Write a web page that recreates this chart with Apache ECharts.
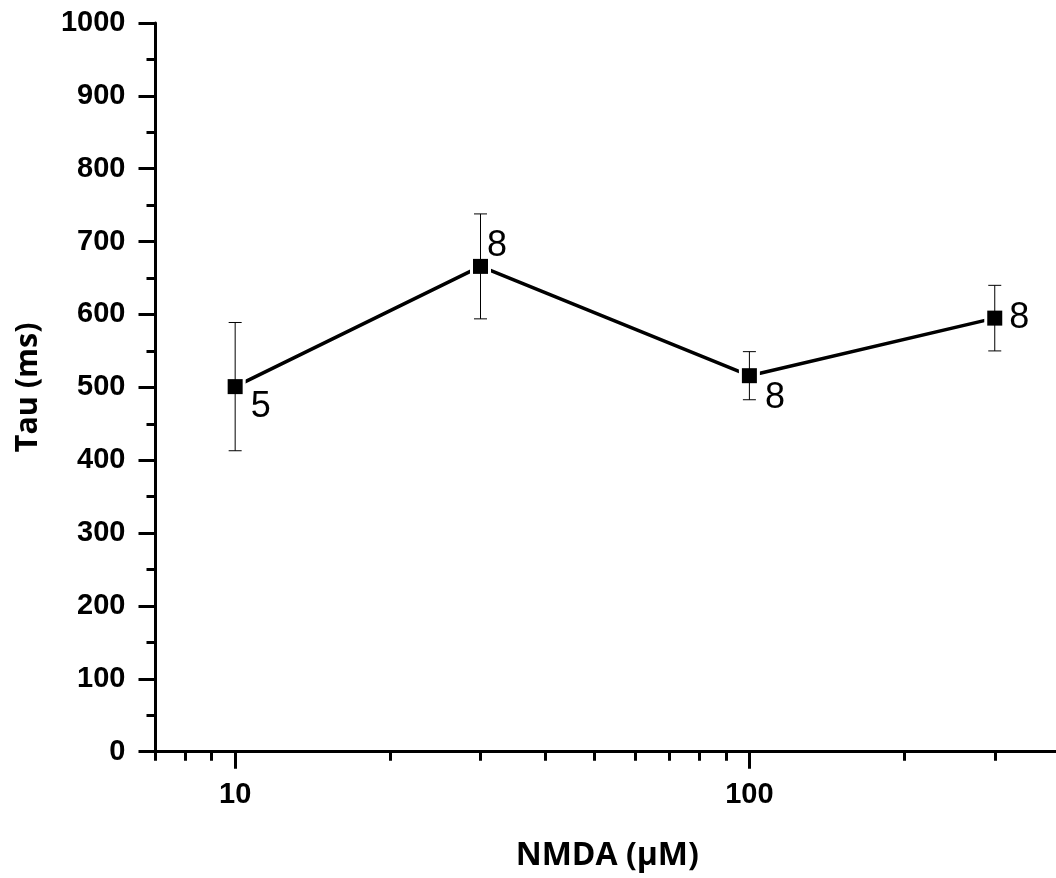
<!DOCTYPE html>
<html>
<head>
<meta charset="utf-8">
<script src="https://cdn.jsdelivr.net/npm/echarts@6/dist/echarts.min.js"></script>
<style>
  html, body { margin: 0; padding: 0; background: #ffffff; }
  #chart { width: 1056px; height: 878px; }
</style>
</head>
<body>
<div id="chart"></div>
<script>
// NMDA concentration (µM) and decay time constant (ms), mean ± SEM
const concentrations = [10, 30, 100, 300];
const tauMean = [501, 666, 516, 595];
const tauSem = [88, 72, 33, 45];
const cellCounts = [5, 8, 8, 8];

// log-scale x axis: labelled decades and the minor ticks between them
const xMajorTicks = [10, 100];
const xMinorTicks = [7, 8, 9, 20, 30, 40, 50, 60, 70, 80, 90, 200, 300];
const xRange = [7, 400];
const yRange = [0, 1000];
const yStep = 100;

const lg = Math.log10;
const points = concentrations.map((c, i) => [lg(c), tauMean[i]]);
const errorRows = concentrations.map((c, i) => [lg(c), tauMean[i] - tauSem[i], tauMean[i] + tauSem[i]]);

// where each "n" label sits relative to its marker
const nLabelOffsets = [[8, 20], [-1, -20], [8, 22], [7, 0]];

const black = '#000000';
const tickFont = { fontFamily: 'Liberation Sans', fontWeight: 'bold', fontSize: 29, color: black };

const chart = echarts.init(document.getElementById('chart'), null, { renderer: 'canvas' });

chart.setOption({
  animation: false,
  backgroundColor: '#ffffff',
  grid: {
    left: 155.5, top: 23, width: 903.5, height: 728.7,
    containLabel: false, outerBoundsMode: 'none'
  },
  xAxis: [
    {
      type: 'value',
      min: lg(xRange[0]), max: lg(xRange[1]),
      position: 'bottom',
      name: 'NMDA (\u00b5M)',
      nameLocation: 'middle',
      nameGap: 88,
      nameTextStyle: { fontFamily: 'Open Sans', fontWeight: 'bold', fontSize: 32, color: black },
      axisLine: { show: true, onZero: false, lineStyle: { color: black, width: 3 } },
      axisTick: {
        show: true, inside: false, length: 17,
        customValues: xMajorTicks.map(lg),
        lineStyle: { color: black, width: 3 }
      },
      axisLabel: Object.assign({
        margin: 29,
        customValues: xMajorTicks.map(lg),
        formatter: v => String(Math.round(Math.pow(10, v)))
      }, tickFont),
      splitLine: { show: false }
    },
    {
      type: 'value',
      min: lg(xRange[0]), max: lg(xRange[1]),
      position: 'bottom',
      axisLine: { show: false, onZero: false },
      axisTick: {
        show: true, inside: false, length: 9,
        customValues: xMinorTicks.map(lg),
        lineStyle: { color: black, width: 3 }
      },
      axisLabel: { show: false },
      splitLine: { show: false }
    }
  ],
  yAxis: {
    type: 'value',
    min: yRange[0], max: yRange[1], interval: yStep,
    name: 'Tau (ms)',
    nameLocation: 'middle',
    nameGap: 112,
    nameTextStyle: { fontFamily: 'Open Sans', fontWeight: 'bold', fontSize: 30.5, color: black },
    axisLine: { show: true, onZero: false, lineStyle: { color: black, width: 3 } },
    axisTick: { show: true, inside: false, length: 17, lineStyle: { color: black, width: 3 } },
    minorTick: { show: true, splitNumber: 2, length: 9, lineStyle: { color: black, width: 3 } },
    axisLabel: Object.assign({ margin: 30, formatter: v => String(v) }, tickFont),
    splitLine: { show: false },
    minorSplitLine: { show: false }
  },
  series: [
    {
      // connecting line
      type: 'line',
      data: points,
      symbol: 'none',
      lineStyle: { color: black, width: 3.5, opacity: 1 },
      silent: true,
      z: 2
    },
    {
      // white halo that leaves a small gap between line and marker
      type: 'scatter',
      data: points,
      symbol: 'rect',
      symbolSize: 21,
      itemStyle: { color: '#ffffff', opacity: 1 },
      silent: true,
      z: 3
    },
    {
      // SEM error bars with caps
      type: 'custom',
      data: errorRows,
      encode: { x: 0, y: [1, 2] },
      silent: true,
      z: 4,
      renderItem: function (params, api) {
        const x = api.value(0);
        const lo = api.coord([x, api.value(1)]);
        const hi = api.coord([x, api.value(2)]);
        const half = 6.5;
        const style = { stroke: black, lineWidth: 1 };
        return {
          type: 'group',
          children: [
            { type: 'line', shape: { x1: lo[0], y1: lo[1], x2: hi[0], y2: hi[1] }, style: style },
            { type: 'line', shape: { x1: hi[0] - half, y1: hi[1], x2: hi[0] + half, y2: hi[1] }, style: style },
            { type: 'line', shape: { x1: lo[0] - half, y1: lo[1], x2: lo[0] + half, y2: lo[1] }, style: style }
          ]
        };
      }
    },
    {
      // mean markers with the number of cells beside each
      type: 'scatter',
      symbol: 'rect',
      symbolSize: 15,
      itemStyle: { color: black, opacity: 1 },
      silent: true,
      z: 5,
      data: points.map((p, i) => ({
        value: p,
        label: { offset: nLabelOffsets[i] }
      })),
      label: {
        show: true,
        position: 'right',
        distance: 0,
        formatter: p => String(cellCounts[p.dataIndex]),
        fontFamily: 'Liberation Sans',
        fontSize: 36,
        color: black
      }
    }
  ]
});
</script>
</body>
</html>
